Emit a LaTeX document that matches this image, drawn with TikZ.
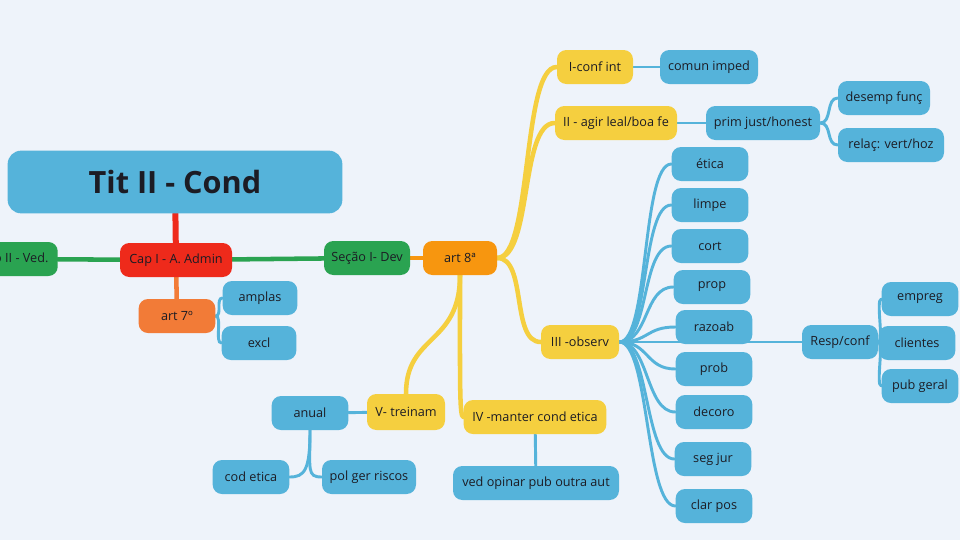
\documentclass[tikz,border=0pt]{standalone}
\usepackage{fontspec}
\setmainfont{Open Sans}
\usetikzlibrary{backgrounds}
\definecolor{mapbg}{HTML}{EEF3FA}
\definecolor{mapblue}{HTML}{55B3DA}
\definecolor{mapred}{HTML}{EE2A1B}
\definecolor{mapgreen}{HTML}{2AA351}
\definecolor{maporange}{HTML}{F7960F}
\definecolor{mapcoral}{HTML}{F27B37}
\definecolor{mapyellow}{HTML}{F5CF3F}
\definecolor{maptext}{HTML}{1C1C24}
\pgfdeclarelayer{edges}
\pgfsetlayers{background,edges,main}
\tikzset{Topic/.style={shape=rectangle, rounded corners=7pt, minimum height=25.5pt, minimum width=57.5pt,
    inner sep=2pt, font=\fontsize{9.5}{11}\selectfont, text=maptext, fill=mapblue},
  Branch/.style={line width=2.2pt, line cap=round},
  Trunk/.style={line width=3.4pt, line cap=round}}

\begin{document}
\begin{tikzpicture}[x=0.75pt,y=-0.75pt]
\useasboundingbox (0,0) rectangle (960,540);
\begin{pgfonlayer}{background}
\fill[mapbg] (0,0) rectangle (960,540);
\end{pgfonlayer}
\clip (0,0) rectangle (960,540);
\node[Topic, minimum width=251pt, minimum height=47pt, rounded corners=10pt, font=\fontsize{23}{27}\selectfont\bfseries] (tit) at (175,182) {Tit II - Cond};
\node[Topic, fill=mapred, minimum width=84pt] (cap) at (176,260) {Cap I - A. Admin};
\node[Topic, fill=mapgreen, anchor=east, inner xsep=7pt] (sec2) at (58,259) {Seção II - Ved.};
\node[Topic, fill=mapgreen, minimum width=64.5pt] (sec1) at (367,258) {Seção I- Dev};
\node[Topic, fill=maporange, minimum width=55.5pt] (art8) at (460,258) {art 8ª};
\node[Topic, fill=mapcoral] (art7) at (177,316) {art 7º};
\node[Topic, minimum width=56pt] (amplas) at (260,298) {amplas};
\node[Topic, minimum width=56pt] (excl) at (259,343) {excl};
\node[Topic, fill=mapyellow, minimum width=57pt] (conf) at (595,67) {I-conf int};
\node[Topic, minimum width=73.5pt] (comun) at (709,67) {comun imped};
\node[Topic, fill=mapyellow, minimum width=91.5pt] (agir) at (616,123) {II - agir leal/boa fe};
\node[Topic, minimum width=85.5pt] (prim) at (763,123) {prim just/honest};
\node[Topic, minimum width=69pt] (desemp) at (884,98) {desemp funç};
\node[Topic, minimum width=79.5pt] (relac) at (891,145) {relaç: vert/hoz};
\node[Topic, fill=mapyellow, minimum width=58.5pt] (observ) at (580,342) {III -observ};
\node[Topic] (etica) at (710,164) {ética};
\node[Topic] (limpe) at (710,205) {limpe};
\node[Topic] (cort) at (710,246) {cort};
\node[Topic] (prop) at (712,287) {prop};
\node[Topic] (razoab) at (714,327) {razoab};
\node[Topic] (prob) at (714,369) {prob};
\node[Topic] (decoro) at (714,412) {decoro};
\node[Topic] (segjur) at (713,459) {seg jur};
\node[Topic] (clarpos) at (714,506) {clar pos};
\node[Topic, minimum width=57pt] (resp) at (840,342) {Resp/conf};
\node[Topic] (empreg) at (920,299) {empreg};
\node[Topic] (clientes) at (917,343) {clientes};
\node[Topic] (pubgeral) at (920,386) {pub geral};
\node[Topic, fill=mapyellow, minimum width=58.5pt, minimum height=27pt] (treinam) at (406,412) {V- treinam};
\node[Topic, fill=mapyellow, minimum width=107pt] (manter) at (535,417) {IV -manter cond etica};
\node[Topic, minimum width=124.5pt] (opinar) at (536,483) {ved opinar pub outra aut};
\node[Topic] (anual) at (310,413) {anual};
\node[Topic] (codetica) at (251,477) {cod etica};
\node[Topic, minimum width=70.5pt] (polger) at (369,477) {pol ger riscos};
\begin{pgfonlayer}{edges}
\draw[Trunk, mapred, line width=4.5pt] (tit) -- (cap);
\draw[Trunk, mapgreen] (cap) -- (sec2);
\draw[Trunk, mapgreen] (cap) -- (sec1);
\draw[Trunk, mapcoral] (cap) -- (art7);
\draw[Trunk, maporange] (sec1) -- (art8);
\draw[Branch, mapblue] (art7.east) .. controls +(7,0) and +(-7,0) .. (amplas.west);
\draw[Branch, mapblue] (art7.east) .. controls +(7,0) and +(-7,0) .. (excl.west);
\draw[Trunk, mapyellow] (art8.east) .. controls +(35,0) and +(-35,0) .. (conf.west);
\draw[Trunk, mapyellow] (art8.east) .. controls +(35,0) and +(-35,0) .. (agir.west);
\draw[Trunk, mapyellow] (art8.east) .. controls +(30,0) and +(-30,0) .. (observ.west);
\draw[Trunk, mapyellow] (art8.south) .. controls +(0,70) and +(0,-60) .. (treinam.north);
\draw[Trunk, mapyellow] (art8.south) .. controls +(0,110) and +(-4,0) .. (manter.west);
\draw[Branch, mapblue] (conf) -- (comun);
\draw[Branch, mapblue] (agir) -- (prim);
\draw[Branch, mapblue] (prim.east) .. controls +(12,0) and +(-12,0) .. (desemp.west);
\draw[Branch, mapblue] (prim.east) .. controls +(12,0) and +(-12,0) .. (relac.west);
\foreach \n in {etica,limpe,cort,prop,razoab,prob,decoro,segjur,clarpos}
  \draw[Branch, mapblue] (observ.east) .. controls +(30,0) and +(-30,0) .. (\n.west);
\draw[Branch, mapblue] (observ) -- (resp);
\foreach \n in {empreg,clientes,pubgeral}
  \draw[Branch, mapblue] (resp.east) .. controls +(6,0) and +(-6,0) .. (\n.west);
\draw[Branch, mapblue] (manter) -- (opinar);
\draw[Branch, mapblue] (treinam) -- (anual);
\draw[Branch, mapblue] (anual.south) .. controls +(0,40) and +(15,0) .. (codetica.east);
\draw[Branch, mapblue] (anual.south) .. controls +(0,40) and +(-15,0) .. (polger.west);
\end{pgfonlayer}
\end{tikzpicture}
\end{document}
